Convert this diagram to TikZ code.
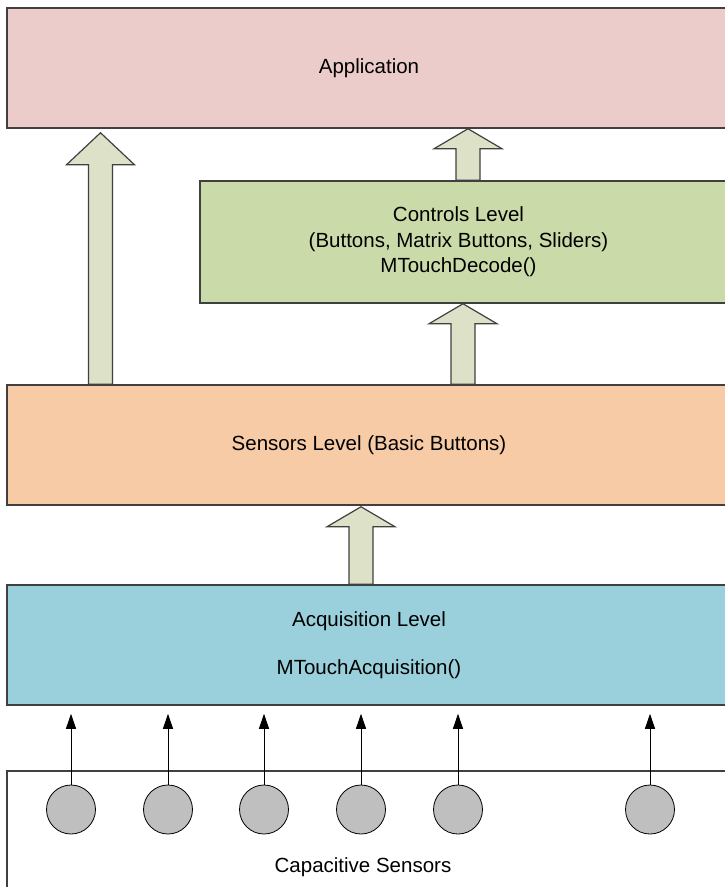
\documentclass[tikz,border=0pt]{standalone}
\usepackage{fontspec}
\setmainfont{Liberation Sans}
\usetikzlibrary{calc,arrows.meta}

\definecolor{appcol}{RGB}{235,204,203}
\definecolor{ctrlcol}{RGB}{203,218,169}
\definecolor{senscol}{RGB}{248,203,167}
\definecolor{acqcol}{RGB}{153,208,220}
\definecolor{arrcol}{RGB}{220,225,200}
\definecolor{edgecol}{RGB}{64,64,64}

% x centre, from node, to node, head length, gap at tip
\newcommand{\fatarrow}[5]{%
	\draw[fatarr] ($(#1-12,0 |- #2.north)$) -- ($(#1-12,0 |- #3.south)+(0,#4+#5)$)
		-- ($(#1-34,0 |- #3.south)+(0,#4+#5)$) -- ($(#1,0 |- #3.south)+(0,#5)$)
		-- ($(#1+34,0 |- #3.south)+(0,#4+#5)$) -- ($(#1+12,0 |- #3.south)+(0,#4+#5)$)
		-- ($(#1+12,0 |- #2.north)$) -- cycle;}

\begin{document}
\begin{tikzpicture}[x=1pt, y=-1pt,
	level/.style={draw=edgecol, line width=1.5pt, minimum width=724pt, inner sep=0pt, align=center,
		font=\fontsize{20.5}{25.5}\selectfont},
	lbl/.style={font=\fontsize{20.5}{25.5}\selectfont, inner sep=0pt, align=center},
	fatarr/.style={draw=edgecol, line width=1.2pt, fill=arrcol},
	sensor/.style={circle, draw=black, line width=0.8pt, fill=black!25, minimum size=49pt, inner sep=0pt},
	thin arr/.style={line width=0.9pt, -{Triangle[length=15pt, width=10pt]}}]
	\useasboundingbox (0,0) rectangle (725,887);

	%levels
	\node[level, fill=appcol, minimum height=120pt] (app) at (369,68) {Application};
	\node[level, fill=ctrlcol, minimum width=531pt, minimum height=122pt,
		label={[lbl, xshift=-7pt]center:Controls Level\\(Buttons, Matrix Buttons, Sliders)\\MTouchDecode()}]
		(ctrl) at (465.5,242) {};
	\node[level, fill=senscol, minimum height=120pt] (sens) at (369,445) {Sensors Level (Basic Buttons)};
	\node[level, fill=acqcol, minimum height=120pt] (acq) at (369,645)
		{Acquisition Level\\[22pt]MTouchAcquisition()};
	\node[level, minimum height=124pt] (caps) at (369,833) {};
	\node[lbl] (capslbl) at (363,867) {Capacitive Sensors};

	%block arrows
	\fatarrow{100.5}{sens}{app}{32}{4}
	\fatarrow{468}{ctrl}{app}{20}{0}
	\fatarrow{463}{sens}{ctrl}{20}{0}
	\fatarrow{361}{acq}{sens}{20}{1}

	%sensors
	\foreach \i/\x in {1/71, 2/168, 3/264, 4/361, 5/458, 6/650} {
		\node[sensor] (s\i) at (\x,809.5) {};
		\draw[thin arr] (s\i.north) -- ($(s\i |- acq.south)+(0,8)$);
	}
\end{tikzpicture}
\end{document}
